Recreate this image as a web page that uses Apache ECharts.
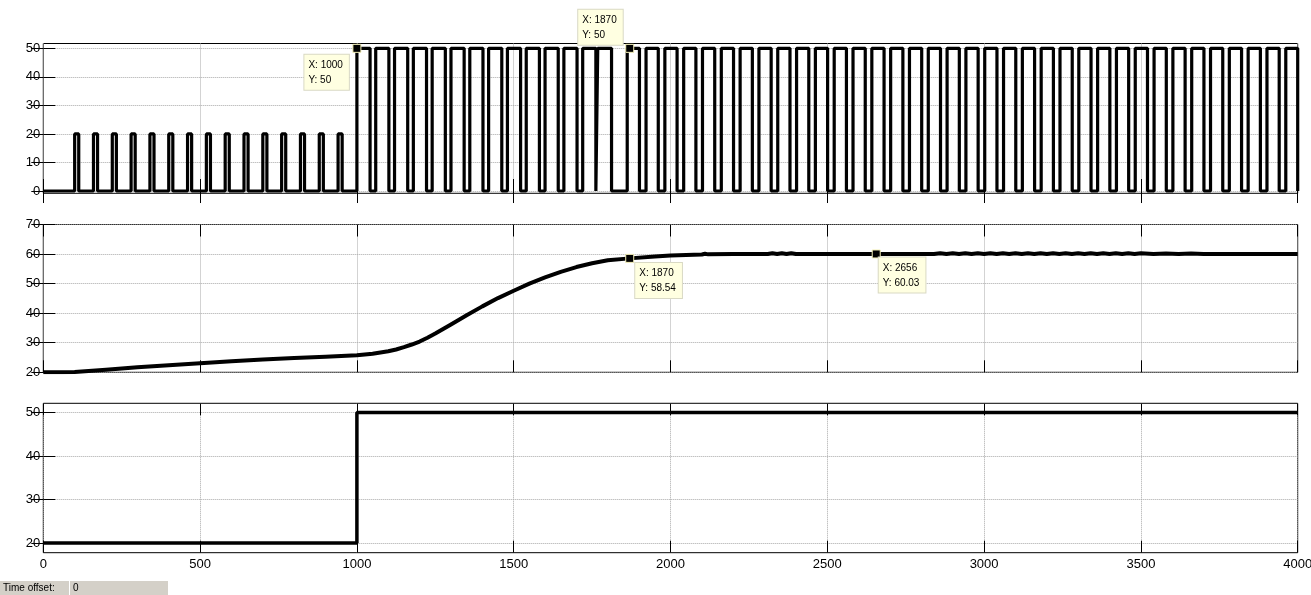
<!DOCTYPE html>
<html>
<head>
<meta charset="utf-8">
<script src="https://cdn.jsdelivr.net/npm/echarts@6/dist/echarts.min.js"></script>
<style>
  html, body { margin: 0; padding: 0; background: #ffffff; }
  #chart { width: 1311px; height: 595px; }
</style>
</head>
<body>
<div id="chart"></div>
<script>
// ---- Time axis ----
const timeTicks = [0, 500, 1000, 1500, 2000, 2500, 3000, 3500, 4000];

// ---- Panel 1: heater PWM output ----
const heaterTicks = [0, 10, 20, 30, 40, 50];
const lowPowerLevel = 20;
const lowPowerPulses = [
  [100, 113], [160, 173], [220, 233], [280, 293], [340, 353], [400, 413], [460, 473], [520, 533],
  [580, 593], [640, 653], [700, 713], [760, 773], [820, 833], [880, 893], [940, 953]
];
const highPowerLevel = 50;
const highPowerPulses = [
  [1000, 1042], [1060, 1102], [1120, 1162], [1180, 1222], [1240, 1282], [1300, 1342], [1360, 1402],
  [1420, 1462], [1480, 1522], [1540, 1582], [1600, 1642], [1660, 1702], [1720, 1762], [1768, 1812],
  [1862, 1901], [1922, 1961], [1982, 2021], [2042, 2081], [2102, 2141], [2162, 2201], [2222, 2261],
  [2282, 2321], [2342, 2381], [2402, 2441], [2462, 2501], [2522, 2561], [2582, 2621], [2642, 2681],
  [2702, 2741], [2762, 2801], [2822, 2861], [2882, 2921], [2942, 2981], [3002, 3041], [3062, 3101],
  [3122, 3161], [3182, 3221], [3242, 3281], [3302, 3341], [3362, 3401], [3422, 3461], [3482, 3521],
  [3542, 3581], [3602, 3641], [3662, 3701], [3722, 3761], [3782, 3821], [3842, 3881], [3902, 3941],
  [3962, 4000]
];

// ---- Panel 2: measured temperature ----
const tempTicks = [20, 30, 40, 50, 60, 70];
const tempTime = [
  0, 60, 100, 200, 300, 400, 500, 600, 700, 800, 900, 1000, 1050, 1100, 1125, 1150, 1175, 1200,
  1225, 1250, 1300, 1350, 1400, 1450, 1500, 1550, 1600, 1650, 1700, 1750, 1800, 1870, 1950, 2000,
  2050, 2100, 2110, 2120, 2200, 2310, 2325, 2340, 2355, 2370, 2385, 2400, 2420, 2656, 2840, 2860,
  2880, 2900, 2920, 2940, 2960, 2980, 3000, 3020, 3040, 3060, 3080, 3100, 3120, 3140, 3160, 3180,
  3200, 3220, 3240, 3260, 3280, 3300, 3320, 3340, 3360, 3380, 3400, 3420, 3440, 3460, 3480, 3500,
  3540, 3580, 3620, 3660, 3700, 3720, 4000
];
const tempValue = [
  20.0, 20.0, 20.1, 20.9, 21.7, 22.4, 23.1, 23.7, 24.3, 24.8, 25.3, 25.8, 26.3, 27.1, 27.7, 28.5, 29.4, 30.4,
  31.7, 33.1, 36.2, 39.3, 42.3, 45.1, 47.6, 50.0, 52.1, 54.0, 55.6, 56.9, 57.9, 58.54, 59.2, 59.5,
  59.7, 59.85, 60.1, 59.9, 60.0, 60.0, 60.3, 60.0, 60.3, 60.0, 60.3, 60.0, 60.0, 60.03, 60.0, 60.3,
  60.0, 60.3, 60.0, 60.3, 60.0, 60.3, 60.0, 60.3, 60.0, 60.3, 60.0, 60.3, 60.0, 60.3, 60.0, 60.3,
  60.0, 60.3, 60.0, 60.3, 60.0, 60.3, 60.0, 60.3, 60.0, 60.3, 60.0, 60.3, 60.0, 60.3, 60.0, 60.3,
  60.0, 60.2, 60.0, 60.2, 60.0, 60.0, 60.0
];

// ---- Panel 3: temperature setpoint ----
const setpointTicks = [20, 30, 40, 50];
const setpointTime = [0, 1000, 4000];
const setpointValue = [20, 50, 50];

// ---- Data tips ----
const tipPanel = [0, 0, 1, 1];
const tipX = [1000, 1870, 1870, 2656];
const tipY = [50, 50, 58.54, 60.03];

// ---------------------------------------------------------------
const FONT = '"Liberation Sans", Arial, Helvetica, sans-serif';
const INK = '#000000';
const GRID_LINE = { color: '#a8a8a8', width: 1, type: [1, 1] };

// Square-wave polyline from [rise, fall] pairs
function pulsePoints(groups) {
  const pts = [[0, 0]];
  groups.forEach(({ pulses, level }) => {
    pulses.forEach(([a, b]) => {
      pts.push([a, 0], [a, level], [b, level], [b, 0]);
    });
  });
  pts.push([4000, 0]);
  return pts;
}

// Zero-order-hold polyline from breakpoints
function holdPoints(times, values) {
  const pts = [];
  for (let i = 0; i < times.length; i++) {
    if (i > 0 && values[i] !== values[i - 1]) pts.push([times[i], values[i - 1]]);
    pts.push([times[i], values[i]]);
  }
  return pts;
}

const panels = [
  { top: 43.5, height: 149.8, min: -0.8, max: 51.7, ticks: heaterTicks, xLabels: false },
  { top: 224.5, height: 147.8, min: 20, max: 70, ticks: tempTicks, xLabels: false },
  { top: 403.3, height: 149.4, min: 17.8, max: 52.1, ticks: setpointTicks, xLabels: true }
];

const grids = [], xAxes = [], yAxes = [];
panels.forEach((p, i) => {
  grids.push({
    left: 43.3, right: 13.3, top: p.top, height: p.height,
    outerBoundsMode: 'none', containLabel: false,
    show: true, borderColor: INK, borderWidth: 1, backgroundColor: 'transparent'
  });
  // bottom x axis: grid lines and (last panel) labels
  xAxes.push({
    gridIndex: i, type: 'value', position: 'bottom', min: 0, max: 4000, interval: 500,
    axisLine: { show: false },
    axisTick: { show: true, inside: true, length: 12, lineStyle: { color: INK, width: 1 } },
    axisLabel: {
      show: p.xLabels, color: INK, fontFamily: FONT, fontSize: 13, margin: 5,
      customValues: timeTicks, formatter: (v) => String(v)
    },
    splitLine: { show: true, lineStyle: GRID_LINE }
  });
  // top x axis: ticks only
  xAxes.push({
    gridIndex: i, type: 'value', position: 'top', min: 0, max: 4000, interval: 500,
    axisLine: { show: false },
    axisTick: { show: true, inside: true, length: 12, lineStyle: { color: INK, width: 1 } },
    axisLabel: { show: false },
    splitLine: { show: false }
  });
  // left y axis
  yAxes.push({
    gridIndex: i, type: 'value', position: 'left', min: p.min, max: p.max,
    axisLine: { show: false },
    axisTick: { show: true, inside: true, length: 12, customValues: p.ticks, lineStyle: { color: INK, width: 1 } },
    axisLabel: {
      show: true, color: INK, fontFamily: FONT, fontSize: 13, margin: 3,
      customValues: p.ticks, formatter: (v) => String(v)
    },
    splitLine: { show: true, lineStyle: GRID_LINE }
  });
  // right y axis: ticks only
  yAxes.push({
    gridIndex: i, type: 'value', position: 'right', min: p.min, max: p.max,
    axisLine: { show: false },
    axisTick: { show: true, inside: true, length: 12, customValues: p.ticks, lineStyle: { color: INK, width: 1 } },
    axisLabel: { show: false },
    splitLine: { show: false }
  });
});

// Data tip placement relative to the marker box
const tipOffsets = [[-48, 11], [-47, -34], [10, 9], [7, 8]];

function tipsFor(panel) {
  const out = [];
  tipX.forEach((x, k) => {
    if (tipPanel[k] !== panel) return;
    out.push({
      coord: [x, tipY[k]],
      label: {
        position: tipOffsets[k],
        formatter: 'X: ' + x + '\nY: ' + tipY[k]
      }
    });
  });
  return out;
}

const markPointStyle = {
  symbol: 'rect',
  symbolSize: 8,
  silent: true,
  animation: false,
  itemStyle: { color: '#000', borderColor: '#f4f0b8', borderWidth: 1 },
  label: {
    show: true,
    color: INK,
    fontFamily: FONT,
    fontSize: 10,
    lineHeight: 15,
    align: 'left',
    verticalAlign: 'top',
    backgroundColor: '#ffffe1',
    borderColor: '#d9d9c4',
    borderWidth: 1,
    padding: [3, 6, 2, 4]
  }
};

const series = [
  {
    type: 'line', xAxisIndex: 0, yAxisIndex: 0, showSymbol: false, animation: false,
    lineStyle: { color: INK, width: 3.2 },
    data: pulsePoints([
      { pulses: lowPowerPulses, level: lowPowerLevel },
      { pulses: highPowerPulses, level: highPowerLevel }
    ]),
    markPoint: Object.assign({ data: tipsFor(0) }, markPointStyle)
  },
  {
    type: 'line', xAxisIndex: 2, yAxisIndex: 2, showSymbol: false, animation: false,
    lineStyle: { color: INK, width: 4 },
    data: tempTime.map((t, i) => [t, tempValue[i]]),
    markPoint: Object.assign({ data: tipsFor(1) }, markPointStyle)
  },
  {
    type: 'line', xAxisIndex: 4, yAxisIndex: 4, showSymbol: false, animation: false,
    lineStyle: { color: INK, width: 3.5 },
    data: holdPoints(setpointTime, setpointValue)
  }
];

const chart = echarts.init(document.getElementById('chart'), null, { renderer: 'canvas' });
chart.setOption({
  backgroundColor: '#ffffff',
  animation: false,
  grid: grids,
  xAxis: xAxes,
  yAxis: yAxes,
  series,
  graphic: [
    { type: 'rect', left: 0, top: 581, shape: { width: 69, height: 14 }, style: { fill: '#d4d0c8' } },
    { type: 'rect', left: 70, top: 581, shape: { width: 98, height: 14 }, style: { fill: '#d4d0c8' } },
    { type: 'text', left: 3, top: 583, style: { text: 'Time offset:', fill: '#000', font: '10px ' + FONT } },
    { type: 'text', left: 73, top: 583, style: { text: '0', fill: '#000', font: '10px ' + FONT } }
  ]
});
</script>
</body>
</html>
